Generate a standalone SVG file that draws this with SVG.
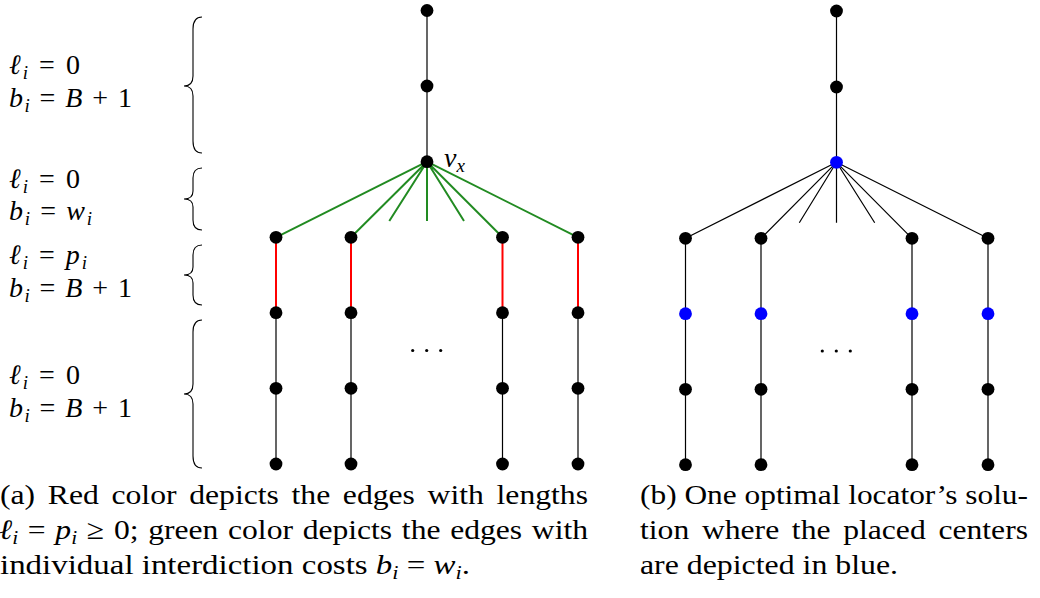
<svg xmlns="http://www.w3.org/2000/svg" width="1040" height="598" viewBox="0 0 1040 598">
<style>
.e{stroke:#000;stroke-width:1.2;fill:none}
.g{stroke:#228b22;stroke-width:2;fill:none}
.r{stroke:#f00;stroke-width:2;fill:none}
.br{stroke:#000;stroke-width:1.1;fill:none}
.n{fill:#000}
.b{fill:#00f}
text{font-family:'Liberation Serif','Times New Roman',serif;font-size:28px;fill:#000}
.m{font-style:italic}
.s{font-size:19px;font-style:italic}
</style>
<rect width="1040" height="598" fill="#fff"/>
<g id="braces">
<path class="br" d="M202 17 Q193 17 193 29 L193 76 Q193 86 184 86 Q193 86 193 96 L193 141 Q193 153 202 153"/>
<path class="br" d="M202 168 Q193 168 193 178 L193 191 Q193 199 184 199 Q193 199 193 207 L193 220 Q193 230 202 230"/>
<path class="br" d="M202 245 Q193 245 193 255 L193 267 Q193 275 184 275 Q193 275 193 283 L193 295 Q193 305 202 305"/>
<path class="br" d="M202 320 Q193 320 193 332 L193 384 Q193 394 184 394 Q193 394 193 404 L193 456 Q193 468 202 468"/>
</g>
<g id="labels">
<text x="9" y="74" textLength="71" lengthAdjust="spacing"><tspan class="m">ℓ</tspan><tspan class="s" dy="5">i</tspan><tspan dy="-5"> = 0</tspan></text>
<text x="9" y="107" textLength="123" lengthAdjust="spacing"><tspan class="m">b</tspan><tspan class="s" dy="5">i</tspan><tspan dy="-5"> = </tspan><tspan class="m">B</tspan><tspan> + 1</tspan></text>
<text x="9" y="188" textLength="71" lengthAdjust="spacing"><tspan class="m">ℓ</tspan><tspan class="s" dy="5">i</tspan><tspan dy="-5"> = 0</tspan></text>
<text x="9" y="220" textLength="83" lengthAdjust="spacing"><tspan class="m">b</tspan><tspan class="s" dy="5">i</tspan><tspan dy="-5"> = </tspan><tspan class="m">w</tspan><tspan class="s" dy="5">i</tspan></text>
<text x="9" y="264" textLength="78" lengthAdjust="spacing"><tspan class="m">ℓ</tspan><tspan class="s" dy="5">i</tspan><tspan dy="-5"> = </tspan><tspan class="m">p</tspan><tspan class="s" dy="5">i</tspan></text>
<text x="9" y="297" textLength="123" lengthAdjust="spacing"><tspan class="m">b</tspan><tspan class="s" dy="5">i</tspan><tspan dy="-5"> = </tspan><tspan class="m">B</tspan><tspan> + 1</tspan></text>
<text x="9" y="384" textLength="71" lengthAdjust="spacing"><tspan class="m">ℓ</tspan><tspan class="s" dy="5">i</tspan><tspan dy="-5"> = 0</tspan></text>
<text x="9" y="417" textLength="123" lengthAdjust="spacing"><tspan class="m">b</tspan><tspan class="s" dy="5">i</tspan><tspan dy="-5"> = </tspan><tspan class="m">B</tspan><tspan> + 1</tspan></text>
</g>
<g id="connectors">
<path class="e" d="M427 10.5V161.7"/>
<path class="g" d="M427 161.7L276 237.3M427 161.7L351 237.3M427 161.7L502.5 237.3M427 161.7L578 237.3M427 161.7L389.3 221M427 161.7V221M427 161.7L464 221"/>
<path class="r" d="M276 237.3V312.7M351 237.3V312.7M502.5 237.3V312.7M578 237.3V312.7"/>
<path class="e" d="M276 312.7V464M351 312.7V464M502.5 312.7V464M578 312.7V464"/>
<path class="e" d="M836.5 11V162.3"/>
<path class="e" d="M836.5 162.3L685.5 238.3M836.5 162.3L761 238.3M836.5 162.3L912 238.3M836.5 162.3L988 238.3M836.5 162.3L799.3 222.7M836.5 162.3V222.7M836.5 162.3L874.7 222.7"/>
<path class="e" d="M685.5 238.3V464.7M761 238.3V464.7M912 238.3V464.7M988 238.3V464.7"/>
</g>
<g id="treeA">
<circle id="a0" class="n" cx="427" cy="10.5" r="6.4"/>
<circle id="a1" class="n" cx="427" cy="86" r="6.4"/>
<g id="vx"><circle class="n" cx="427" cy="161.7" r="6.4"/>
<text x="444" y="167"><tspan class="m">v</tspan><tspan class="s" dy="5">x</tspan></text></g>
<circle id="a11" class="n" cx="276" cy="237.3" r="6.4"/>
<circle id="a12" class="n" cx="276" cy="312.7" r="6.4"/>
<circle id="a13" class="n" cx="276" cy="388.3" r="6.4"/>
<circle id="a14" class="n" cx="276" cy="464" r="6.4"/>
<circle id="a21" class="n" cx="351" cy="237.3" r="6.4"/>
<circle id="a22" class="n" cx="351" cy="312.7" r="6.4"/>
<circle id="a23" class="n" cx="351" cy="388.3" r="6.4"/>
<circle id="a24" class="n" cx="351" cy="464" r="6.4"/>
<circle id="a31" class="n" cx="502.5" cy="237.3" r="6.4"/>
<circle id="a32" class="n" cx="502.5" cy="312.7" r="6.4"/>
<circle id="a33" class="n" cx="502.5" cy="388.3" r="6.4"/>
<circle id="a34" class="n" cx="502.5" cy="464" r="6.4"/>
<circle id="a41" class="n" cx="578" cy="237.3" r="6.4"/>
<circle id="a42" class="n" cx="578" cy="312.7" r="6.4"/>
<circle id="a43" class="n" cx="578" cy="388.3" r="6.4"/>
<circle id="a44" class="n" cx="578" cy="464" r="6.4"/>
<g id="dotsA"><circle class="n" cx="412.7" cy="350.5" r="1.6"/><circle class="n" cx="426.7" cy="350.5" r="1.6"/><circle class="n" cx="440.7" cy="350.5" r="1.6"/></g>
</g>
<g id="treeB">
<circle id="b0" class="n" cx="836.5" cy="11" r="6.4"/>
<circle id="b1" class="n" cx="836.5" cy="87" r="6.4"/>
<circle id="b2" class="b" cx="836.5" cy="162.3" r="6.4"/>
<circle id="b11" class="n" cx="685.5" cy="238.3" r="6.4"/>
<circle id="b12" class="b" cx="685.5" cy="313.7" r="6.4"/>
<circle id="b13" class="n" cx="685.5" cy="389.3" r="6.4"/>
<circle id="b14" class="n" cx="685.5" cy="464.7" r="6.4"/>
<circle id="b21" class="n" cx="761" cy="238.3" r="6.4"/>
<circle id="b22" class="b" cx="761" cy="313.7" r="6.4"/>
<circle id="b23" class="n" cx="761" cy="389.3" r="6.4"/>
<circle id="b24" class="n" cx="761" cy="464.7" r="6.4"/>
<circle id="b31" class="n" cx="912" cy="238.3" r="6.4"/>
<circle id="b32" class="b" cx="912" cy="313.7" r="6.4"/>
<circle id="b33" class="n" cx="912" cy="389.3" r="6.4"/>
<circle id="b34" class="n" cx="912" cy="464.7" r="6.4"/>
<circle id="b41" class="n" cx="988" cy="238.3" r="6.4"/>
<circle id="b42" class="b" cx="988" cy="313.7" r="6.4"/>
<circle id="b43" class="n" cx="988" cy="389.3" r="6.4"/>
<circle id="b44" class="n" cx="988" cy="464.7" r="6.4"/>
<g id="dotsB"><circle class="n" cx="822.3" cy="351" r="1.6"/><circle class="n" cx="836.3" cy="351" r="1.6"/><circle class="n" cx="850.3" cy="351" r="1.6"/></g>
</g>
<g id="captions">
<text x="0" y="504" word-spacing="4.2" textLength="588" lengthAdjust="spacingAndGlyphs">(a) Red color depicts the edges with lengths</text>
<text x="-1" y="539" word-spacing="1.6" textLength="589" lengthAdjust="spacingAndGlyphs"><tspan class="m">ℓ</tspan><tspan class="s" dy="5">i</tspan><tspan dy="-5"> = </tspan><tspan class="m">p</tspan><tspan class="s" dy="5">i</tspan><tspan dy="-5"> ≥ 0; green color depicts the edges with</tspan></text>
<text x="0" y="574" textLength="470" lengthAdjust="spacingAndGlyphs">individual interdiction costs <tspan class="m">b</tspan><tspan class="s" dy="5">i</tspan><tspan dy="-5"> = </tspan><tspan class="m">w</tspan><tspan class="s" dy="5">i</tspan><tspan dy="-5">.</tspan></text>
<text x="640" y="504" textLength="388" lengthAdjust="spacingAndGlyphs">(b) One optimal locator’s solu-</text>
<text x="640" y="539" word-spacing="4.2" textLength="388" lengthAdjust="spacingAndGlyphs">tion where the placed centers</text>
<text x="640" y="574" textLength="258" lengthAdjust="spacingAndGlyphs">are depicted in blue.</text>
</g>
</svg>
